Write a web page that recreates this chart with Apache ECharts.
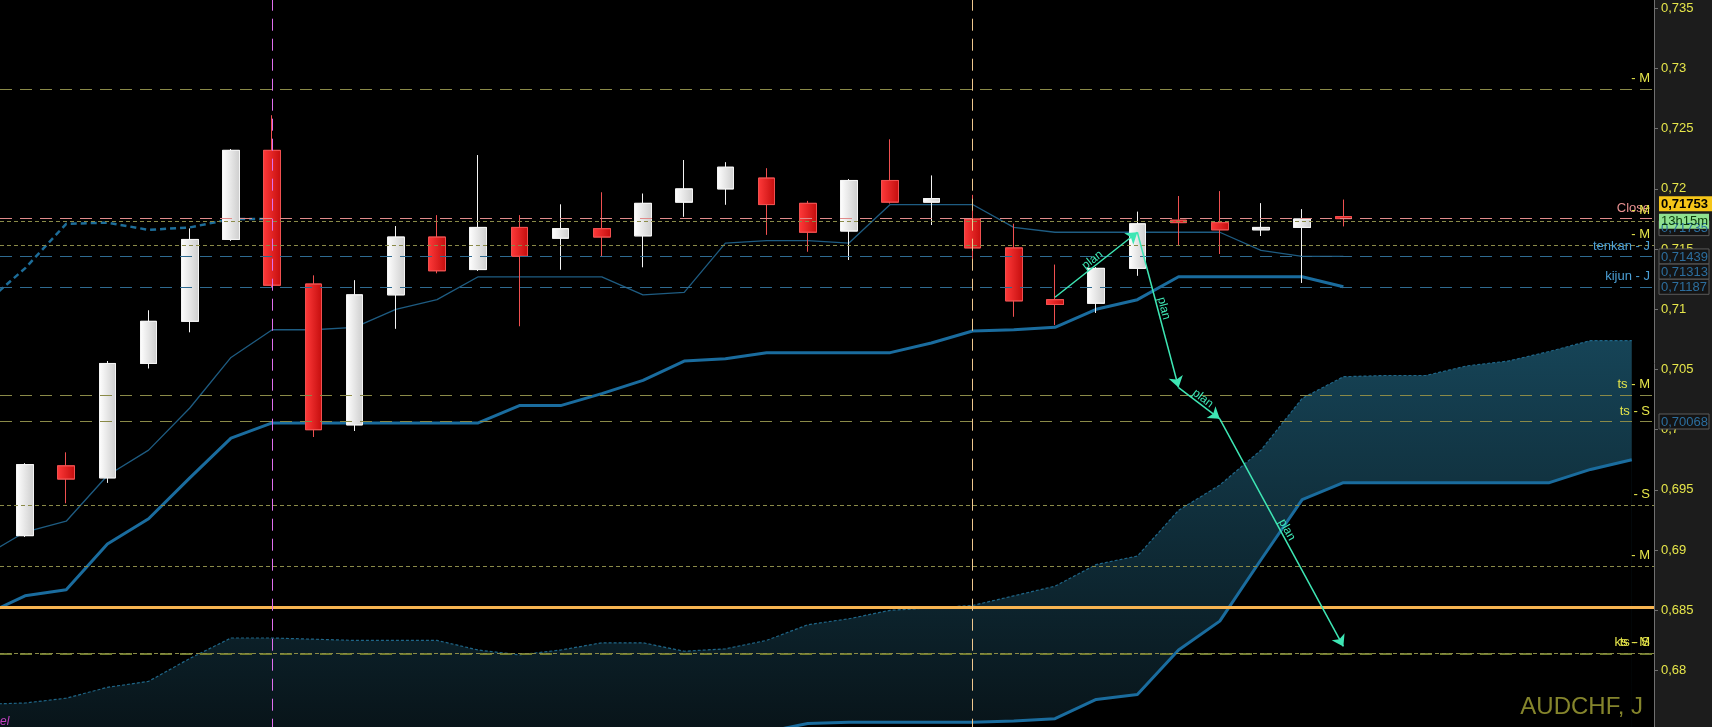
<!DOCTYPE html>
<html>
<head>
<meta charset="utf-8">
<title>AUDCHF, J</title>
<script src="https://cdn.jsdelivr.net/npm/echarts@6/dist/echarts.min.js"></script>
<style>
  html, body { margin: 0; padding: 0; background: #1c1c1c; }
  #chart { width: 1712px; height: 727px; }
</style>
</head>
<body>
<div id="chart"></div>
<script>
// bar 0 = first visible candle
var candleOpen  = [0.6912, 0.6970, 0.6960, 0.7055, 0.7090, 0.7158, 0.7232, 0.7121, 0.7004, 0.7112,
                   0.7160, 0.7133, 0.7168, 0.7159, 0.7167, 0.7161, 0.7189, 0.7200, 0.7209, 0.7188,
                   0.7165, 0.7207, 0.7189, 0.7175, 0.7151, 0.7108, 0.7105, 0.7134, 0.7174, 0.7172,
                   0.7166, 0.7168, 0.7177];
var candleClose = [0.6971, 0.6959, 0.7055, 0.7090, 0.7158, 0.7232, 0.7120, 0.7000, 0.7112, 0.7160,
                   0.7132, 0.7168, 0.7144, 0.7167, 0.7160, 0.7188, 0.7200, 0.7218, 0.7187, 0.7164,
                   0.7207, 0.7189, 0.7192, 0.7151, 0.7107, 0.7104, 0.7134, 0.7171, 0.7172, 0.7166,
                   0.7168, 0.7175, 0.71753];
var candleLow   = [0.6911, 0.6939, 0.6956, 0.7051, 0.7081, 0.7157, 0.7118, 0.6994, 0.6999, 0.7084,
                   0.7130, 0.7132, 0.7086, 0.7133, 0.7144, 0.7135, 0.7177, 0.7187, 0.7162, 0.7148,
                   0.7141, 0.7188, 0.7170, 0.7140, 0.7094, 0.7087, 0.7097, 0.7128, 0.7153, 0.7146,
                   0.7161, 0.7122, 0.7169];
var candleHigh  = [0.6972, 0.6981, 0.7057, 0.7099, 0.7167, 0.7233, 0.7261, 0.7128, 0.7124, 0.7169,
                   0.7178, 0.7228, 0.7178, 0.7187, 0.7197, 0.7196, 0.7224, 0.7222, 0.7217, 0.7190,
                   0.7208, 0.7241, 0.7211, 0.7195, 0.7171, 0.7137, 0.7135, 0.7181, 0.7194, 0.7198,
                   0.7188, 0.7183, 0.7191];

// ichimoku lines, all start one bar left of the first candle (bar -1)
var tenkan = [0.6895, 0.6915, 0.6924, 0.6962, 0.6983, 0.7018, 0.7060, 0.7083, 0.7083, 0.7085,
              0.7100, 0.7108, 0.7127, 0.7127, 0.7127, 0.7127, 0.7112, 0.7114, 0.7155, 0.7157,
              0.7157, 0.7155, 0.7187, 0.7187, 0.7187, 0.7168, 0.7164, 0.7164, 0.7164, 0.7164,
              0.7164, 0.7149, 0.7144, 0.7144];
var kijun  = [0.6846, 0.6862, 0.6867, 0.6905, 0.6926, 0.6960, 0.6993, 0.70056, 0.70056, 0.70056,
              0.70056, 0.70056, 0.70056, 0.7020, 0.7020, 0.7030, 0.7041, 0.7057, 0.7059, 0.7064,
              0.7064, 0.7064, 0.7064, 0.7072, 0.7082, 0.7083, 0.7085, 0.7100, 0.7108, 0.7127,
              0.7127, 0.7127, 0.7127, 0.71187];
var chikou = [0.7104, 0.7134, 0.7171, 0.7172, 0.7166, 0.7168, 0.7175, 0.7175];
var senkouA = [0.6772, 0.6773, 0.6777, 0.6786, 0.6791, 0.6810, 0.6827, 0.6827, 0.6826, 0.6825,
               0.6825, 0.6825, 0.6817, 0.6813, 0.6817, 0.6823, 0.6823, 0.6816, 0.6818, 0.6825,
               0.6838, 0.6843, 0.6850, 0.6852, 0.6854, 0.6862, 0.6870, 0.6888, 0.6895, 0.6933,
               0.6954, 0.6983, 0.7026, 0.7044, 0.7045, 0.7045, 0.7053, 0.7057, 0.7065, 0.7074,
               0.7074];
var senkouB = [0.6738, 0.6738, 0.6738, 0.6738, 0.6738, 0.6738, 0.6738, 0.6738, 0.6738, 0.6738,
               0.6738, 0.6738, 0.6738, 0.6738, 0.6738, 0.6738, 0.6738, 0.6738, 0.6738, 0.6749,
               0.6756, 0.6757, 0.6757, 0.6757, 0.6757, 0.6758, 0.6760, 0.6776, 0.6780, 0.6817,
               0.6841, 0.6892, 0.6942, 0.6956, 0.6956, 0.6956, 0.6956, 0.6956, 0.6956, 0.6967,
               0.6975];

// horizontal levels drawn across the chart
var levelValue = [0.72827, 0.71753, 0.71735, 0.71532, 0.71439, 0.71187, 0.70286, 0.70068,
                  0.69372, 0.68868, 0.68525, 0.68143, 0.68143];
var levelName  = ['- M', 'Close', '- M', '- M', 'tenkan - J', 'kijun - J', 'ts - M', 'ts - S',
                  '- S', '- M', '', 'ks - M', 'ts - S'];

// vertical markers (bar numbers)
var vMarks = [6, 23];

// planned path, [bar, price]
var planPath = [[25, 0.7110], [27, 0.7164], [28, 0.7035], [29, 0.7009], [32, 0.6820]];

// price tags on the axis
var tagValue = [0.71439, 0.71313, 0.71187, 0.70068];
var closeValue = 0.71753;

var yMin = 0.675, yMax = 0.74, yStep = 0.005;

var chart = echarts.init(document.getElementById('chart'));
var Grad = echarts.graphic.LinearGradient;
var FONT = 'Liberation Sans, Arial, sans-serif';

function xy(arr, start) {
  return arr.map(function (v, i) { return [start + i, v]; });
}

var candles = candleOpen.map(function (o, i) {
  return [i, o, candleClose[i], candleLow[i], candleHigh[i]];
});

var planSegs = [];
for (var i = 1; i < planPath.length; i++) {
  planSegs.push({ coords: [planPath[i - 1], planPath[i]] });
}

// line styles for the levels, same order as levelValue
var olive = '#8a8a48', yellow = '#e6e64a';
var levelStyle = [
  { c: olive, t: [12, 8], w: 1, lc: yellow },
  { c: '#e08a8a', t: [12, 8], w: 1, lc: '#e89090' },
  { c: olive, t: [4, 3], w: 1, lc: yellow },
  { c: olive, t: [4, 3], w: 1, lc: yellow },
  { c: '#2e6a90', t: [12, 8], w: 1, lc: '#4b9fd5' },
  { c: '#2e6a90', t: [12, 8], w: 1, lc: '#4b9fd5' },
  { c: olive, t: [12, 8], w: 1, lc: yellow },
  { c: olive, t: [12, 8], w: 1, lc: yellow },
  { c: olive, t: [4, 3], w: 1, lc: yellow },
  { c: olive, t: [4, 3], w: 1, lc: yellow },
  { c: '#f7b451', t: 'solid', w: 3, lc: yellow },
  { c: '#717c2e', t: [12, 8], w: 2, lc: yellow },
  { c: olive, t: [4, 3], w: 1, lc: yellow }
];

var markData = levelValue.map(function (v, i) {
  var s = levelStyle[i];
  return {
    yAxis: v,
    lineStyle: { color: s.c, type: s.t, width: s.w },
    label: {
      show: levelName[i] !== '',
      formatter: levelName[i],
      position: 'insideEndTop',
      distance: [4, 4],
      color: s.lc,
      fontSize: 13,
      fontFamily: FONT
    }
  };
});
markData.push({ xAxis: vMarks[0], lineStyle: { color: '#e070f0', type: [12, 8], width: 1 }, label: { show: false } });
markData.push({ xAxis: vMarks[1], lineStyle: { color: '#f0c88e', type: [12, 8], width: 1 }, label: { show: false } });

var option = {
  animation: false,
  backgroundColor: '#1c1c1c',
  grid: {
    show: true, backgroundColor: '#000', borderWidth: 0,
    left: 0, right: 58, top: -51.9, bottom: -3.7,
    containLabel: false, outerBoundsMode: 'none'
  },
  xAxis: { type: 'value', min: -0.607, max: 39.54, show: false },
  yAxis: {
    type: 'value', position: 'right',
    min: yMin, max: yMax, interval: yStep,
    axisLine: { show: true, onZero: false, lineStyle: { color: '#707070' } },
    axisTick: { show: true, length: 4, lineStyle: { color: '#707070' } },
    splitLine: { show: false },
    axisLabel: {
      color: yellow, fontSize: 13, fontFamily: FONT, margin: 7,
      showMinLabel: false, showMaxLabel: false,
      formatter: function (v) { return String(+v.toFixed(3)).replace('.', ','); }
    }
  },
  series: [
    {
      // kumo, upper edge
      type: 'line', data: xy(senkouA, -1), symbol: 'none', z: 1,
      lineStyle: { color: '#1f6688', width: 1.2, type: [3, 2] },
      areaStyle: {
        origin: 'start', opacity: 1,
        color: new Grad(0, 0, 0, 1, [{ offset: 0, color: '#164457' }, { offset: 1, color: '#081419' }])
      }
    },
    {
      // kumo, lower edge, blacks out below it
      type: 'line', data: xy(senkouB, -1), symbol: 'none', z: 1,
      lineStyle: { color: '#1a6c9e', width: 3 },
      areaStyle: { origin: 'start', color: '#000', opacity: 1 }
    },
    {
      type: 'line', data: xy(chikou, -1), symbol: 'none', z: 3,
      lineStyle: { color: '#1d6d99', width: 2.5, type: [6, 4] }
    },
    {
      type: 'line', data: xy(kijun, -1), symbol: 'none', z: 3,
      lineStyle: { color: '#1a6c9e', width: 3 }
    },
    {
      type: 'line', data: xy(tenkan, -1), symbol: 'none', z: 3,
      lineStyle: { color: '#1e5c82', width: 1.3 }
    },
    {
      type: 'candlestick', data: candles, z: 4,
      encode: { x: 0, y: [1, 2, 3, 4] },
      barWidth: 17,
      itemStyle: {
        color: new Grad(0, 0, 1, 0, [{ offset: 0, color: '#ffffff' }, { offset: 1, color: '#cdcdcd' }]),
        color0: new Grad(0, 0, 1, 0, [{ offset: 0, color: '#ff3a3a' }, { offset: 1, color: '#c40d0d' }]),
        borderColor: '#f4f4f4',
        borderColor0: '#f05050',
        borderWidth: 1
      }
    },
    {
      // level lines
      type: 'line', data: [], z: 5,
      markLine: { silent: true, precision: 5, symbol: ['none', 'none'], animation: false, data: markData }
    },
    {
      type: 'lines', coordinateSystem: 'cartesian2d', z: 6,
      symbol: ['none', 'arrow'], symbolSize: 11,
      lineStyle: { color: '#3ee6b4', width: 1.5, opacity: 1 },
      label: { show: true, position: 'middle', formatter: 'plan', color: '#3ee6b4', fontSize: 12, fontFamily: FONT },
      data: planSegs
    }
  ]
};

chart.setOption(option);

// axis tags, placed from the price scale
function yPix(v) { return chart.convertToPixel({ yAxisIndex: 0 }, v); }
function tag(yc, text, bg, fg, stroke, bold) {
  return [
    { type: 'rect', z: 100, shape: { x: 1659, y: yc - 7.5, width: 50, height: 15 },
      style: { fill: bg, stroke: stroke, lineWidth: stroke ? 1 : 0 } },
    { type: 'text', z: 101, style: { text: text, x: 1661, y: yc + 0.5, verticalAlign: 'middle', align: 'left',
      fill: fg, fontSize: 13, fontWeight: bold ? 'bold' : 'normal', fontFamily: FONT } }
  ];
}

var g = [];
tagValue.forEach(function (v) {
  g = g.concat(tag(yPix(v), String(v).replace('.', ','), '#141414', '#2c6e9e', '#5a5a5a', false));
});
var yc = yPix(closeValue);
g = g.concat(tag(yc + 9.5, '0,71735', '#141414', '#2c6e9e', '#5a5a5a', false));
g = g.concat(tag(yc + 2.5, '13h15m', '#8fe08f', '#0a3a0a', null, false));
var yellowTag = tag(yc - 15, String(closeValue).replace('.', ','), '#f5c518', '#000', null, true);
yellowTag[0].shape.width = 60;
g = g.concat(yellowTag);

g.push({ type: 'text', z: 100, style: { text: 'AUDCHF, J', x: 1643, y: 719, align: 'right', verticalAlign: 'bottom',
  fill: '#85852c', fontSize: 24, fontFamily: FONT } });
g.push({ type: 'text', z: 100, style: { text: 'el', x: 0, y: 722, align: 'left', verticalAlign: 'middle',
  fill: '#c040c0', fontSize: 12, fontStyle: 'italic', fontFamily: FONT } });

chart.setOption({ graphic: g });
</script>
</body>
</html>
